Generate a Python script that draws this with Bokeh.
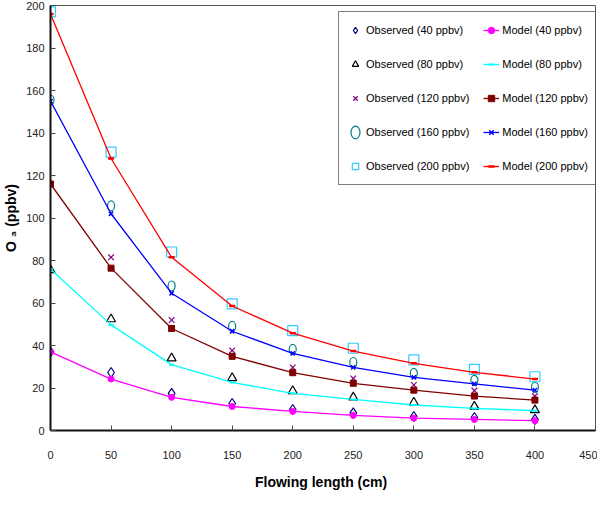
from bokeh.plotting import figure
from bokeh.models import Legend, LegendItem, FixedTicker, Range1d
from bokeh.embed import file_html
from bokeh.resources import INLINE

# ---- data ----
flow_len = [0, 50, 100, 150, 200, 250, 300, 350, 400]
obs_40 = [37, 27.3, 17.5, 12.7, 9.9, 8.3, 6.6, 6.1, 5.2]
mod_40 = [37, 24.2, 15.6, 11.3, 9.0, 7.1, 5.8, 5.2, 4.6]
obs_80 = [75.5, 52.4, 34, 24.7, 18.6, 15.6, 13.2, 11.3, 9.6]
mod_80 = [76, 49.7, 31, 22.6, 17.5, 14.6, 12, 10.4, 9.3]
obs_120 = [116, 81.5, 52, 37.7, 29.7, 24.5, 21.4, 18.8, 16.2]
mod_120 = [116, 76.4, 48, 34.9, 27.2, 22.2, 19, 16.2, 14.3]
obs_160 = [155.5, 105.7, 68, 49, 38.2, 32, 26.9, 23.6, 20.3]
mod_160 = [155, 102, 64.6, 46.7, 36.3, 29.7, 25, 21.9, 19]
obs_200 = [197, 131, 84, 59.6, 47, 38.7, 33.2, 28.8, 25.3]
mod_200 = [196, 128, 81.5, 58.6, 45.8, 37.4, 31.6, 27.4, 24.2]

obs_labels = ["Observed (40 ppbv)", "Observed (80 ppbv)", "Observed (120 ppbv)",
              "Observed (160 ppbv)", "Observed (200 ppbv)"]
mod_labels = ["Model (40 ppbv)", "Model (80 ppbv)", "Model (120 ppbv)",
              "Model (160 ppbv)", "Model (200 ppbv)"]
x_ticks = [0, 50, 100, 150, 200, 250, 300, 350, 400, 450]
y_ticks = [0, 20, 40, 60, 80, 100, 120, 140, 160, 180, 200]

FONT = "Liberation Sans"

p = figure(frame_width=545, frame_height=425, output_backend="svg", toolbar_location=None,
           x_range=Range1d(0, 450), y_range=Range1d(0, 200),
           min_border_left=48, min_border_top=5, min_border_right=2, min_border_bottom=62)
p.xgrid.visible = False
p.ygrid.visible = False
p.outline_line_color = "#555555"
p.outline_line_width = 1
p.background_fill_color = "white"

for ax in (p.xaxis[0], p.yaxis[0]):
    ax.axis_line_color = "#111111"
    ax.axis_line_width = 2
    ax.major_tick_line_color = "#444444"
    ax.major_tick_in = 5
    ax.major_tick_out = 0
    ax.minor_tick_line_color = None
    ax.major_label_text_font = FONT
    ax.major_label_text_font_size = "11px"
    ax.major_label_text_color = "#222222"
    ax.axis_label_text_font = FONT
    ax.axis_label_text_font_style = "bold"
    ax.axis_label_text_font_size = "14px"
    ax.axis_label_text_color = "#000000"

p.xaxis.ticker = FixedTicker(ticks=x_ticks)
p.yaxis.ticker = FixedTicker(ticks=y_ticks)
p.xaxis.major_label_standoff = 20
p.yaxis.major_label_standoff = 6
p.xaxis.axis_label = "Flowing  length (cm)"
p.xaxis.axis_label_standoff = 12
p.yaxis.axis_label = "O \u2083 (ppbv)"
p.yaxis.axis_label_standoff = 4

obs_series = [obs_40, obs_80, obs_120, obs_160, obs_200]
mod_series = [mod_40, mod_80, mod_120, mod_160, mod_200]
obs_style = [
    dict(marker="diamond", size=10, line_color="#000080", fill_color=None),
    dict(marker="triangle", size=9, line_color="#000000", fill_color=None),
    dict(marker="x", size=8, line_color="#800080", fill_color=None),
    None,
    dict(marker="square", size=10, line_color="#33CCFF", fill_color=None),
]
mod_color = ["#FF00FF", "#00FFFF", "#800000", "#0000FF", "#FF0000"]
mod_marker = [
    dict(marker="circle", size=6, line_color="#FF00FF", fill_color="#FF00FF"),
    dict(marker="dash", size=5, line_color="#00FFFF", fill_color="#00FFFF", line_width=2),
    dict(marker="square", size=6, line_color="#800000", fill_color="#800000"),
    dict(marker="x", size=6, line_color="#0000FF", fill_color="#0000FF", line_width=1.5),
    dict(marker="dash", size=6, line_color="#FF0000", fill_color="#FF0000", line_width=2.5),
]

obs_items = []
mod_items = []
for i in range(5):
    if obs_style[i] is None:
        o = p.ellipse(flow_len, obs_series[i], width=7, height=10,
                      width_units="screen", height_units="screen",
                      line_color="#008080", fill_color=None, line_width=1.2)
    else:
        o = p.scatter(flow_len, obs_series[i], line_width=1.2, **obs_style[i])
    ln = p.line(flow_len, mod_series[i], line_color=mod_color[i], line_width=1.3)
    mk = p.scatter(flow_len, mod_series[i], **mod_marker[i])
    obs_items.append(LegendItem(label=obs_labels[i], renderers=[o]))
    mod_items.append(LegendItem(label=mod_labels[i], renderers=[ln, mk]))

legend = Legend(items=obs_items + mod_items, location=(288, 245), orientation="vertical",
                ncols=2, nrows=5,
                label_text_font=FONT, label_text_font_size="11px",
                label_text_color="#000000",
                glyph_width=16, glyph_height=20, label_height=20, label_standoff=3,
                spacing=14, padding=8, margin=0,
                border_line_color="#000000", border_line_width=1,
                background_fill_color="white", background_fill_alpha=1)
p.add_layout(legend, "center")

open("out.html", "w").write(file_html(p, INLINE))
